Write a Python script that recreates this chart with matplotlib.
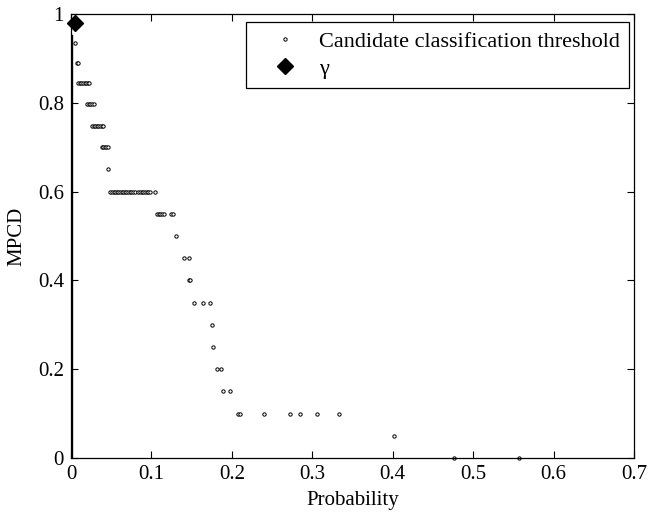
import numpy as np
import matplotlib
matplotlib.use('Agg')
import matplotlib.pyplot as plt

plt.rcParams['font.family'] = ['Liberation Serif', 'DejaVu Serif']
plt.rcParams['mathtext.fontset'] = 'stix'

# candidate thresholds (probability, MPCD)
prob = [0.005, 0.0075, 0.0085,
        0.009, 0.011, 0.013, 0.015, 0.017, 0.019, 0.021, 0.023,
        0.020, 0.022, 0.024, 0.026, 0.028,
        0.026, 0.028, 0.030, 0.032, 0.034, 0.036, 0.038, 0.040,
        0.038, 0.040, 0.042, 0.044, 0.046,
        0.046,
        0.049, 0.051, 0.053, 0.055, 0.057, 0.059, 0.061, 0.063, 0.065, 0.067,
        0.069, 0.071, 0.073, 0.075, 0.077, 0.080, 0.083, 0.086, 0.088, 0.090,
        0.092, 0.094, 0.096, 0.098, 0.1045,
        0.107, 0.109, 0.111, 0.113, 0.116, 0.124, 0.127,
        0.131,
        0.1405, 0.1465,
        0.1465, 0.148,
        0.1526, 0.1638, 0.1733,
        0.175,
        0.1766,
        0.181, 0.1866,
        0.1895, 0.1978,
        0.2073, 0.2102, 0.2397, 0.272, 0.2848, 0.306, 0.3337,
        0.4013,
        0.4756, 0.5568]
mpcd = [0.934, 0.889, 0.889,
        0.844, 0.844, 0.844, 0.844, 0.844, 0.844, 0.844, 0.844,
        0.797, 0.797, 0.797, 0.797, 0.797,
        0.748, 0.748, 0.748, 0.748, 0.748, 0.748, 0.748, 0.748,
        0.70, 0.70, 0.70, 0.70, 0.70,
        0.65,
        0.6, 0.6, 0.6, 0.6, 0.6, 0.6, 0.6, 0.6, 0.6, 0.6,
        0.6, 0.6, 0.6, 0.6, 0.6, 0.6, 0.6, 0.6, 0.6, 0.6,
        0.6, 0.6, 0.6, 0.6, 0.6,
        0.55, 0.55, 0.55, 0.55, 0.55, 0.55, 0.55,
        0.5,
        0.45, 0.45,
        0.4, 0.4,
        0.35, 0.35, 0.35,
        0.3,
        0.25,
        0.2, 0.2,
        0.15, 0.15,
        0.1, 0.1, 0.1, 0.1, 0.1, 0.1, 0.1,
        0.05,
        0.0, 0.0]

# dense run of thresholds at probability ~ 0
dense_prob = [0.0008, 0.0008]
dense_mpcd = [0.0, 0.95]

gamma_prob = [0.005]
gamma_mpcd = [0.98]

fig = plt.figure(figsize=(6.5, 5.14), dpi=100)
ax = fig.add_axes([0.1092, 0.1089, 0.8662, 0.8639])

ax.plot(dense_prob, dense_mpcd, '-', color='black', lw=1.7)
ax.plot(prob, mpcd, 'o', ms=2.4, mfc='white', mec='black', mew=0.7,
        label='Candidate classification threshold', clip_on=False)
ax.plot(gamma_prob, gamma_mpcd, 'D', ms=8, color='black', label='γ', clip_on=False)

ax.set_xlim(0, 0.7)
ax.set_ylim(0, 1)
ax.set_xticks([0, 0.1, 0.2, 0.3, 0.4, 0.5, 0.6, 0.7])
ax.set_xticklabels(['0', '0.1', '0.2', '0.3', '0.4', '0.5', '0.6', '0.7'])
ax.set_yticks([0, 0.2, 0.4, 0.6, 0.8, 1])
ax.set_yticklabels(['0', '0.2', '0.4', '0.6', '0.8', '1'])
ax.tick_params(direction='in', length=5, width=0.8, top=True, right=True,
               labelsize=15, pad=5)
for s in ax.spines.values():
    s.set_linewidth(0.9)

ax.set_xlabel('Probability', fontsize=15, labelpad=5)
ax.set_ylabel('MPCD', fontsize=15, labelpad=8)

leg = ax.legend(loc='upper right', bbox_to_anchor=(0.991, 0.981), fontsize=16,
                fancybox=False, edgecolor='black', framealpha=1,
                handlelength=2.7, handletextpad=0.2, borderpad=0.4,
                labelspacing=0.3, borderaxespad=0)
leg.get_frame().set_linewidth(0.9)

fig.savefig('out.png', dpi=100)
